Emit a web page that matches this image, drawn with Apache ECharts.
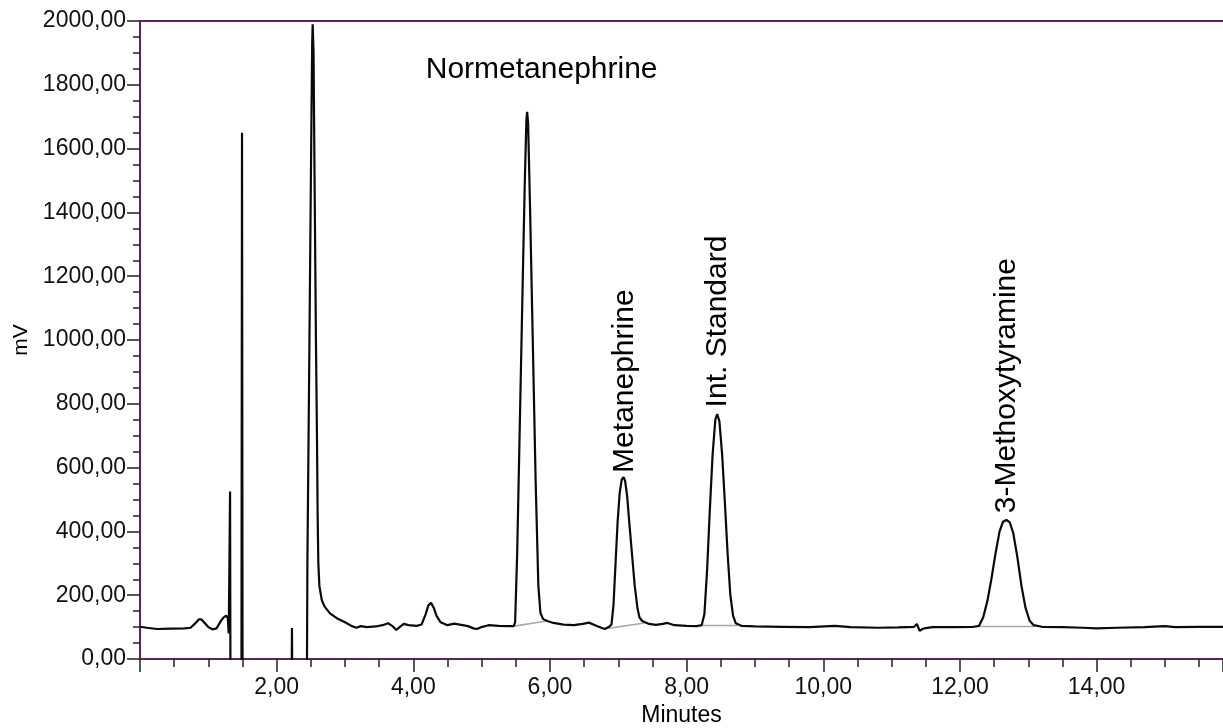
<!DOCTYPE html>
<html>
<head>
<meta charset="utf-8">
<script src="https://cdn.jsdelivr.net/npm/echarts@6/dist/echarts.min.js"></script>
<style>
html,body{margin:0;padding:0;background:#fff;}
#chart{width:1223px;height:728px;}
</style>
</head>
<body>
<div id="chart"></div>
<script>
// Chromatogram trace: time (min) and signal (mV)
const traceTime = [0.00,0.10,0.25,0.45,0.65,0.74,0.80,0.86,0.90,0.95,1.00,1.06,1.12,1.18,1.22,1.26,1.285,1.298,1.308,1.318,1.326,1.484,1.493,1.502,2.214,2.224,2.234,2.438,2.45,2.48,2.505,2.52,2.527,2.54,2.555,2.575,2.59,2.60,2.61,2.625,2.66,2.70,2.78,2.88,3.00,3.10,3.17,3.23,3.32,3.45,3.55,3.63,3.69,3.75,3.80,3.86,3.93,4.05,4.12,4.18,4.22,4.26,4.30,4.34,4.40,4.50,4.60,4.68,4.80,4.88,4.93,5.00,5.10,5.25,5.40,5.47,5.49,5.52,5.56,5.60,5.63,5.655,5.666,5.68,5.71,5.75,5.79,5.83,5.86,5.90,5.96,6.05,6.20,6.35,6.48,6.57,6.66,6.75,6.80,6.86,6.90,6.93,6.96,6.99,7.02,7.05,7.077,7.10,7.13,7.16,7.20,7.24,7.28,7.31,7.35,7.45,7.55,7.65,7.72,7.82,8.00,8.15,8.22,8.26,8.30,8.34,8.38,8.42,8.448,8.48,8.52,8.56,8.60,8.64,8.68,8.72,8.80,9.00,9.40,9.80,10.17,10.40,10.80,11.10,11.33,11.37,11.41,11.45,11.50,11.60,11.90,12.20,12.28,12.34,12.40,12.46,12.52,12.58,12.63,12.68,12.73,12.78,12.84,12.90,12.96,13.02,13.08,13.20,13.50,13.80,14.00,14.30,14.70,15.00,15.15,15.50,15.85];
const traceMv = [101,98,94,95,96,98,110,124,124,112,100,93,96,118,130,136,128,80,280,525,-300,-300,1650,-300,-300,97,-300,-300,300,1000,1600,1930,1990,1900,1500,1000,700,450,300,230,185,165,143,128,115,103,98,103,100,102,106,112,104,91,100,110,106,104,108,140,168,176,160,135,115,106,111,108,103,96,94,100,106,104,103,103,115,330,750,1170,1480,1690,1715,1680,1400,980,560,230,145,125,119,113,108,106,110,114,106,98,94,100,108,170,300,430,520,562,570,558,510,430,330,230,160,130,119,110,107,110,113,106,104,103,106,140,280,470,640,750,768,745,640,490,330,200,135,112,104,102,101,100,104,100,98,99,101,110,88,94,97,100,100,101,104,130,180,250,330,400,430,436,428,395,320,230,160,120,106,101,100,98,96,98,100,103,100,101,101];

// Integration baselines under the labelled peaks
const baseStartT = [5.48, 6.82, 8.22, 12.28];
const baseStartV = [103, 95, 105, 102];
const baseEndT = [5.95, 7.38, 8.75, 13.10];
const baseEndV = [119, 113, 105, 102];

// Peak annotations
const peakNames = ['Normetanephrine', 'Metanephrine', 'Int. Standard', '3-Methoxytyramine'];
const peakLabelT = [5.878, 7.094, 8.456, 12.69];
const peakLabelV = [1847, 871, 1058, 857];
const peakLabelRotate = [0, 90, 90, 90];

const xTickInterval = 2;
const yTickInterval = 200;

const FONT = "'Liberation Sans', Arial, Helvetica, sans-serif";
const AXIS_PURPLE = '#5c2462';

const traceData = traceTime.map((t, i) => [t, traceMv[i]]);
const baseData = [];
baseStartT.forEach((t, i) => {
  baseData.push([t, baseStartV[i]]);
  baseData.push([baseEndT[i], baseEndV[i]]);
  baseData.push([null, null]);
});
const labelData = peakNames.map((n, i) => ({
  name: n,
  value: [peakLabelT[i], peakLabelV[i]],
  label: { rotate: peakLabelRotate[i] }
}));

const fmt = v => v.toFixed(2).replace('.', ',');

const chart = echarts.init(document.getElementById('chart'), null, { renderer: 'canvas' });
chart.setOption({
  animation: false,
  backgroundColor: '#ffffff',
  grid: { left: 140, right: 0, top: 21, bottom: 69, containLabel: false, outerBoundsMode: 'none' },
  xAxis: [{
    type: 'value',
    min: 0, max: 15.85, interval: xTickInterval,
    name: 'Minutes', nameLocation: 'middle', nameGap: 43,
    nameTextStyle: { fontFamily: FONT, fontSize: 23, color: '#000' },
    axisLine: { show: true, onZero: false, lineStyle: { color: AXIS_PURPLE, width: 2 } },
    axisTick: { show: true, inside: false, length: 13, lineStyle: { color: '#222', width: 1.5 } },
    minorTick: { show: true, splitNumber: 4, length: 8, lineStyle: { color: '#222', width: 1.5 } },
    axisLabel: { fontFamily: FONT, fontSize: 23, color: '#111', margin: 17, showMinLabel: false, showMaxLabel: false, formatter: fmt },
    splitLine: { show: false }
  }, {
    type: 'value', position: 'top', min: 0, max: 15.85,
    axisLine: { show: true, onZero: false, lineStyle: { color: AXIS_PURPLE, width: 2 } },
    axisTick: { show: false }, axisLabel: { show: false }, splitLine: { show: false }
  }],
  yAxis: {
    type: 'value', min: 0, max: 2000, interval: yTickInterval,
    name: 'mV', nameLocation: 'middle', nameGap: 106, nameRotate: 90,
    nameTextStyle: { fontFamily: FONT, fontSize: 21, color: '#000' },
    axisLine: { show: true, onZero: false, lineStyle: { color: AXIS_PURPLE, width: 2 } },
    axisTick: { show: true, length: 13, lineStyle: { color: '#222', width: 1.5 } },
    minorTick: { show: true, splitNumber: 4, length: 7, lineStyle: { color: '#222', width: 1.5 } },
    axisLabel: { fontFamily: FONT, fontSize: 23, color: '#111', margin: 14, formatter: fmt },
    splitLine: { show: false }
  },
  series: [
    {
      type: 'line', name: 'baseline', data: baseData, showSymbol: false, symbol: 'none',
      connectNulls: false, z: 1, silent: true,
      lineStyle: { color: '#a8a8a8', width: 1.6 }
    },
    {
      type: 'line', name: 'signal', data: traceData, showSymbol: false, symbol: 'none',
      clip: true, z: 3, silent: true,
      lineStyle: { color: '#0a0a0a', width: 2.2 }
    },
    {
      type: 'scatter', name: 'labels', data: labelData, symbolSize: 0, silent: true, z: 4,
      itemStyle: { opacity: 1 },
      label: {
        show: true, position: 'inside', formatter: p => p.name, opacity: 1,
        fontFamily: FONT, fontSize: 30, color: '#000', align: 'center', verticalAlign: 'middle'
      }
    }
  ]
});
</script>
</body>
</html>
